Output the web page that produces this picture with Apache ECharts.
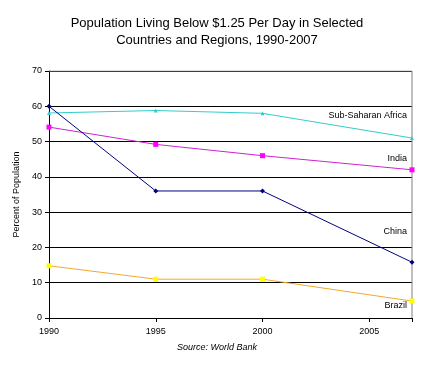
<!DOCTYPE html>
<html><head><meta charset="utf-8">
<script src="https://cdn.jsdelivr.net/npm/echarts@6/dist/echarts.min.js"></script>
<style>html,body{margin:0;padding:0;background:#fff}#c{width:434px;height:367px}</style>
</head><body><div id="c"></div>
<script>
const years = [1990, 1995, 2000, 2007];
const subSaharanAfrica = [58.1, 58.8, 58.0, 51.0];
const india = [54.1, 49.2, 46.0, 42.0];
const china = [60.0, 36.0, 36.0, 15.8];
const brazil = [14.8, 11.0, 11.0, 4.8];
const seriesNames = ['Sub-Saharan Africa', 'India', 'China', 'Brazil'];
const yTicks = [0, 10, 20, 30, 40, 50, 60, 70];

const font = 'Liberation Sans, Arial, sans-serif';
const pair = arr => years.map((y, i) => [y, arr[i]]);
const chart = echarts.init(document.getElementById('c'), null, {renderer: 'canvas'});
const mk = (name, data, color, mcolor, symbol, size) => ({
  name, type: 'line', data: pair(data), symbol, symbolSize: size,
  lineStyle: {color, width: 1}, itemStyle: {color: mcolor},
  emphasis: {disabled: true}, animation: false, z: 3
});
chart.setOption({
  animation: false,
  title: {
    text: 'Population Living Below $1.25 Per Day in Selected\nCountries and Regions, 1990-2007',
    left: 'center', top: 10,
    textStyle: {fontFamily: font, fontSize: 13, fontWeight: 'normal', color: '#000', lineHeight: 17}
  },
  grid: {left: 49, right: 22, top: 71, bottom: 49, show: false},
  xAxis: {
    type: 'value', min: 1990, max: 2007, interval: 5,
    axisLine: {lineStyle: {color: '#000', width: 1}},
    axisTick: {show: true, length: 4, lineStyle: {color: '#000'}},
    axisLabel: {fontFamily: font, fontSize: 9, color: '#000', margin: 9,
      formatter: v => (v % 5 === 0 ? String(v) : '')},
    splitLine: {show: false}
  },
  yAxis: {
    type: 'value', min: 0, max: 70, interval: 10,
    name: 'Percent of Population', nameLocation: 'middle', nameGap: 21, nameRotate: 90,
    nameTextStyle: {fontFamily: font, fontSize: 9, color: '#000'},
    axisLine: {show: true, lineStyle: {color: '#000', width: 1}},
    axisTick: {show: true, length: 4, lineStyle: {color: '#000'}},
    axisLabel: {fontFamily: font, fontSize: 9, color: '#000', margin: 7,
      formatter: v => (yTicks.includes(v) ? String(v) : '')},
    splitLine: {show: true, lineStyle: {color: '#000', width: 1}}
  },
  series: [
    mk(seriesNames[0], subSaharanAfrica, '#33CCCC', '#33CCCC', 'triangle', 4),
    mk(seriesNames[1], india, '#CC22CC', '#FF00FF', 'rect', 5),
    mk(seriesNames[2], china, '#000080', '#000080', 'diamond', 5),
    mk(seriesNames[3], brazil, '#F0A830', '#FFFF00', 'rect', 5),
    {type: 'line', data: [[1990, 70], [2007, 70]], symbol: 'none', silent: true,
     lineStyle: {color: '#808080', width: 1}, z: 1},
    {type: 'line', data: [[2007, 0], [2007, 70]], symbol: 'none', silent: true,
     lineStyle: {color: '#808080', width: 1}, z: 1}
  ],
  graphic: [
    {type: 'text', right: 27, top: 111, style: {text: 'Sub-Saharan Africa', font: '9px ' + font, fill: '#000'}},
    {type: 'text', right: 27, top: 154, style: {text: 'India', font: '9px ' + font, fill: '#000'}},
    {type: 'text', right: 27, top: 227, style: {text: 'China', font: '9px ' + font, fill: '#000'}},
    {type: 'text', right: 27, top: 301, style: {text: 'Brazil', font: '9px ' + font, fill: '#000'}},
    {type: 'text', left: 'center', top: 343, style: {text: 'Source: World Bank', font: 'italic 9px ' + font, fill: '#000'}}
  ]
});
</script></body></html>
